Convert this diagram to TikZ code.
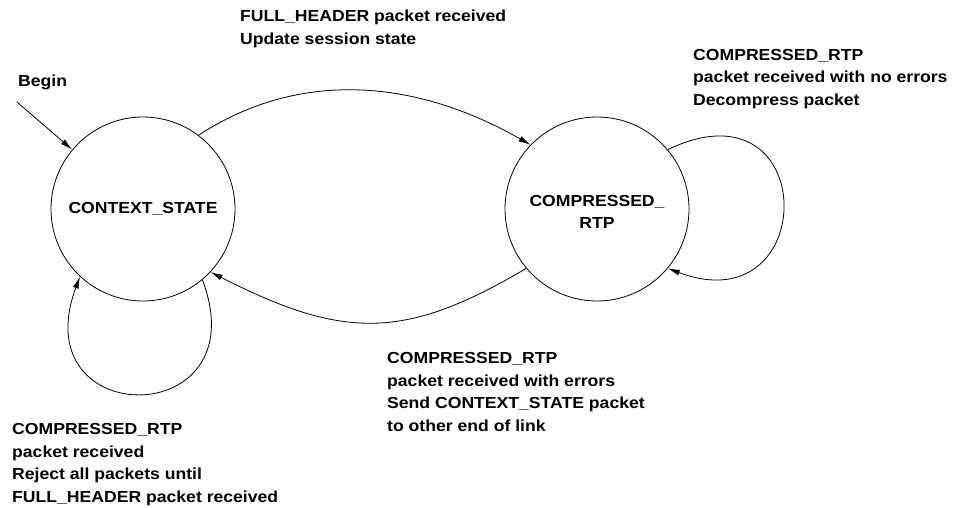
\documentclass[tikz,border=0pt]{standalone}
\usepackage{fontspec}
\setmainfont{Liberation Sans}[FakeStretch=1.1]
\usetikzlibrary{arrows.meta}
\begin{document}
\begin{tikzpicture}[x=1pt,y=-1pt,
  every node/.style={font=\fontsize{16}{22.5}\selectfont\bfseries},
  state/.style={circle,draw,line width=0.8pt,minimum size=184pt,inner sep=0pt,align=center},
  lbl/.style={anchor=base west,inner sep=0pt,align=left},
  edge/.style={line width=0.8pt,-{Latex[length=12pt,width=6pt]}}]
\useasboundingbox (0,0) rectangle (963,507);
\node[state] (ctx) at (143,209) {CONTEXT\_STATE};
\node[state] (crp) at (597,209) {\\[-6pt]COMPRESSED\_\\RTP};
\coordinate (begin) at (17,102);
\node[lbl] (tbegin) at (18,86) {Begin};
\node[lbl] (ttop) at (240,44) {FULL\_HEADER packet received\\Update session state};
\node[lbl] (tright) at (693,105) {COMPRESSED\_RTP\\packet received with no errors\\Decompress packet};
\node[lbl] (tbot) at (387,431) {COMPRESSED\_RTP\\packet received with errors\\Send CONTEXT\_STATE packet\\to other end of link};
\node[lbl] (tleft) at (12,502) {COMPRESSED\_RTP\\packet received\\Reject all packets until\\FULL\_HEADER packet received};
\draw[edge] (begin) -- (ctx.140);
\draw[edge] (ctx.53) .. controls (295,72) and (410,76) .. (crp.136);
\draw[edge] (crp.220) .. controls (405,340) and (344,340) .. (ctx.317);
\draw[edge] (ctx.310) .. controls (260,432) and (22,432) .. (ctx.227);
\draw[edge] (crp.40) .. controls (821,76) and (821,326) .. (crp.-40);
\end{tikzpicture}
\end{document}
